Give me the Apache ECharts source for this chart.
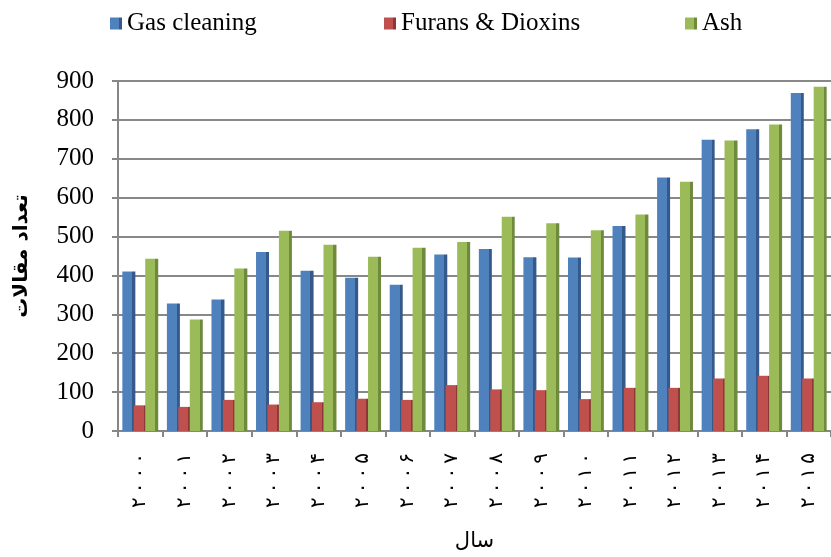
<!DOCTYPE html>
<html>
<head>
<meta charset="utf-8">
<script src="https://cdn.jsdelivr.net/npm/echarts@6/dist/echarts.min.js"></script>
<style>
  html, body { margin: 0; padding: 0; background: #fff; }
  #main { width: 831px; height: 557px; }
</style>
</head>
<body>
<div id="main"></div>
<script>
// سال ها (ارقام فارسی)
var years = ['۲۰۰۰', '۲۰۰۱', '۲۰۰۲', '۲۰۰۳', '۲۰۰۴', '۲۰۰۵', '۲۰۰۶', '۲۰۰۷',
  '۲۰۰۸', '۲۰۰۹', '۲۰۱۰', '۲۰۱۱', '۲۰۱۲', '۲۰۱۳', '۲۰۱۴', '۲۰۱۵'];
var gasCleaning = [410, 328, 338, 460, 412, 394, 376, 454, 468, 447, 446, 527, 652, 749, 776, 869];
var furansDioxins = [66, 62, 80, 68, 74, 83, 80, 118, 107, 105, 82, 111, 111, 135, 142, 135];
var ash = [443, 287, 418, 515, 479, 448, 471, 486, 551, 534, 516, 557, 641, 747, 788, 885];
var yTicks = [0, 100, 200, 300, 400, 500, 600, 700, 800, 900];

var myChart = echarts.init(document.getElementById('main'));

// front face + darker side face
function barColor(base, dark) {
  return new echarts.graphic.LinearGradient(0, 0, 1, 0, [
    {offset: 0, color: base},
    {offset: 0.76, color: base},
    {offset: 0.76, color: dark},
    {offset: 1, color: dark}
  ]);
}

var serif = '"Liberation Serif", "Times New Roman", serif';

function legendItem(name, left) {
  return {
    data: [name],
    left: left,
    top: 6,
    itemWidth: 12,
    itemHeight: 12,
    icon: 'rect',
    textStyle: {fontFamily: serif, fontSize: 25, color: '#000', padding: [3, 0, 0, 0]}
  };
}

myChart.setOption({
  animation: false,
  legend: [
    legendItem('Gas cleaning', 105),
    legendItem('Furans & Dioxins', 379),
    legendItem('Ash', 680)
  ],
  grid: {left: 118, right: 0, top: 81, bottom: 120},
  xAxis: {
    type: 'category',
    data: years,
    name: 'سال',
    nameLocation: 'middle',
    nameGap: 100,
    nameTextStyle: {fontFamily: '"DejaVu Sans", "Noto Sans", sans-serif', fontSize: 21, color: '#000'},
    axisLine: {lineStyle: {color: '#868686', width: 2}},
    axisTick: {show: true, length: 6, lineStyle: {color: '#868686', width: 2}},
    axisLabel: {
      rotate: 90,
      margin: 22,
      fontSize: 20,
      color: '#000',
      fontFamily: '"DejaVu Sans", sans-serif',
      formatter: function (v) {
        return v.split('').join('\u2009');
      }
    }
  },
  yAxis: {
    type: 'value',
    min: yTicks[0],
    max: yTicks[yTicks.length - 1],
    interval: 100,
    name: 'تعداد مقالات',
    nameLocation: 'middle',
    nameRotate: 90,
    nameGap: 86,
    nameTextStyle: {fontFamily: '"DejaVu Sans", "Noto Sans", sans-serif', fontSize: 20, fontWeight: 'bold', color: '#000'},
    axisLine: {show: true, lineStyle: {color: '#868686', width: 2}},
    axisTick: {show: true, length: 6, lineStyle: {color: '#868686', width: 2}},
    axisLabel: {fontFamily: serif, fontSize: 25, color: '#000', margin: 24},
    splitLine: {lineStyle: {color: '#888', width: 2}}
  },
  series: [{
    name: 'Gas cleaning',
    type: 'bar',
    data: gasCleaning,
    barWidth: 13,
    barGap: '-12%',
    itemStyle: {color: barColor('#4F81BD', '#35598A')}
  }, {
    name: 'Furans & Dioxins',
    type: 'bar',
    data: furansDioxins,
    barWidth: 13,
    barGap: '-12%',
    itemStyle: {color: barColor('#C0504D', '#8C3836')}
  }, {
    name: 'Ash',
    type: 'bar',
    data: ash,
    barWidth: 13,
    barGap: '-12%',
    itemStyle: {color: barColor('#9BBB59', '#6E8A3C')}
  }]
});
</script>
</body>
</html>
